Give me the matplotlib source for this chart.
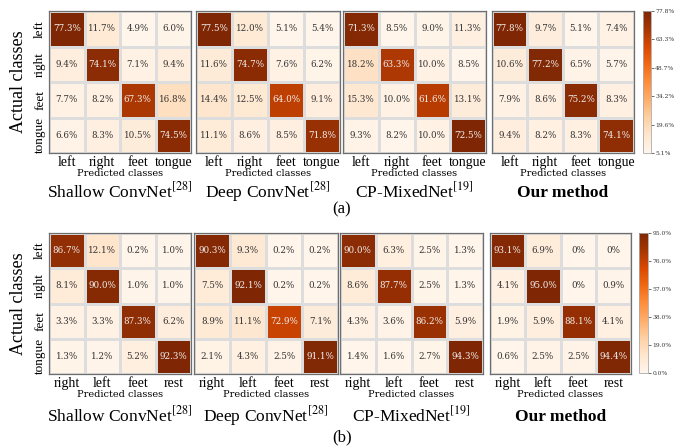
import numpy as np
import matplotlib
matplotlib.use("Agg")
import matplotlib.pyplot as plt

plt.rcParams["mathtext.fontset"] = "stix"

# confusion matrices (percent), rows = actual, cols = predicted
shallow_a = [[77.3, 11.7, 4.9, 6.0], [9.4, 74.1, 7.1, 9.4], [7.7, 8.2, 67.3, 16.8], [6.6, 8.3, 10.5, 74.5]]
deep_a = [[77.5, 12.0, 5.1, 5.4], [11.6, 74.7, 7.6, 6.2], [14.4, 12.5, 64.0, 9.1], [11.1, 8.6, 8.5, 71.8]]
mixed_a = [[71.3, 8.5, 9.0, 11.3], [18.2, 63.3, 10.0, 8.5], [15.3, 10.0, 61.6, 13.1], [9.3, 8.2, 10.0, 72.5]]
ours_a = [[77.8, 9.7, 5.1, 7.4], [10.6, 77.2, 6.5, 5.7], [7.9, 8.6, 75.2, 8.3], [9.4, 8.2, 8.3, 74.1]]

shallow_b = [[86.7, 12.1, 0.2, 1.0], [8.1, 90.0, 1.0, 1.0], [3.3, 3.3, 87.3, 6.2], [1.3, 1.2, 5.2, 92.3]]
deep_b = [[90.3, 9.3, 0.2, 0.2], [7.5, 92.1, 0.2, 0.2], [8.9, 11.1, 72.9, 7.1], [2.1, 4.3, 2.5, 91.1]]
mixed_b = [[90.0, 6.3, 2.5, 1.3], [8.6, 87.7, 2.5, 1.3], [4.3, 3.6, 86.2, 5.9], [1.4, 1.6, 2.7, 94.3]]
ours_b = [[93.1, 6.9, 0, 0], [4.1, 95.0, 0, 0.9], [1.9, 5.9, 88.1, 4.1], [0.6, 2.5, 2.5, 94.4]]

actual_labels = ["left", "right", "feet", "tongue"]
pred_labels_a = ["left", "right", "feet", "tongue"]
pred_labels_b = ["right", "left", "feet", "rest"]
titles = [r"Shallow ConvNet$^{[28]}$", r"Deep ConvNet$^{[28]}$", r"CP-MixedNet$^{[19]}$", "Our method"]

W, H = 681, 447
fig = plt.figure(figsize=(W / 100, H / 100), dpi=100)


def px_axes(x0, y0, x1, y1):
    return fig.add_axes([x0 / W, 1 - y1 / H, (x1 - x0) / W, (y1 - y0) / H])


def fmt(v):
    return "0%" if v == 0 else "%.1f%%" % v


def draw_cm(ax, data, xlabels, title, first, bold, title_y):
    data = np.array(data, dtype=float)
    vmin, vmax = data.min(), data.max()
    mesh = ax.pcolormesh(data, cmap="Oranges", vmin=vmin, vmax=vmax,
                         edgecolors="#dddddd", linewidth=1.0)
    ax.set_xlim(0, 4)
    ax.set_ylim(4, 0)
    for i in range(4):
        for j in range(4):
            v = data[i, j]
            c = "#f0f0f0" if (v - vmin) / (vmax - vmin) > 0.5 else "#333333"
            ax.text(j + 0.5, i + 0.5, fmt(v), ha="center", va="center",
                    fontsize=6.3, color=c, family="DejaVu Serif")
    ax.set_xticks(np.arange(4) + 0.5)
    ax.set_xticklabels(xlabels, family="Liberation Serif", fontsize=10)
    ax.tick_params(length=0, pad=2)
    if first:
        ax.set_yticks(np.arange(4) + 0.5)
        ax.set_yticklabels(actual_labels, family="Liberation Serif", fontsize=9.5,
                           rotation=90, va="center")
        ax.set_ylabel("Actual classes", family="Liberation Serif", fontsize=13, labelpad=5)
    else:
        ax.set_yticks([])
    ax.set_xlabel("Predicted classes", family="DejaVu Serif", fontsize=7, labelpad=0)
    ax.text(0.5, title_y, title, transform=ax.transAxes, ha="center", va="baseline",
            family="Liberation Serif", fontsize=12.5,
            fontweight="bold" if bold else "normal")
    for s in ax.spines.values():
        s.set_color("#6e6e6e")
        s.set_linewidth(0.9)
    return mesh


def draw_cbar(mesh, box, vmin, vmax):
    cax = px_axes(*box)
    cb = fig.colorbar(mesh, cax=cax)
    cb.set_ticks(np.linspace(vmin, vmax, 6))
    cb.set_ticklabels(["%.1f%%" % t for t in np.linspace(vmin, vmax, 6)])
    cb.ax.tick_params(labelsize=4.3, length=2, width=0.5, pad=1, colors="#333333")
    for lab in cb.ax.get_yticklabels():
        lab.set_family("DejaVu Serif")
    cb.outline.set_edgecolor("#aaaaaa")
    cb.outline.set_linewidth(0.6)


boxes_a = [(49, 11, 191, 153), (196, 11, 340, 153), (343, 11, 486, 153), (492, 11, 634, 153)]
boxes_b = [(49, 233, 191, 374), (194, 233, 338, 374), (340, 233, 483, 374), (490, 233, 631, 374)]

for k, (d, box) in enumerate(zip([shallow_a, deep_a, mixed_a, ours_a], boxes_a)):
    m = draw_cm(px_axes(*box), d, pred_labels_a, titles[k], k == 0, k == 3, -0.31)
draw_cbar(m, (643, 11, 651, 153), np.min(ours_a), np.max(ours_a))

for k, (d, box) in enumerate(zip([shallow_b, deep_b, mixed_b, ours_b], boxes_b)):
    m = draw_cm(px_axes(*box), d, pred_labels_b, titles[k], k == 0, k == 3, -0.335)
draw_cbar(m, (639, 233, 648, 373), np.min(ours_b), np.max(ours_b))

fig.text(342 / W, 1 - 209 / H, "(a)", ha="center", va="center",
         family="Liberation Serif", fontsize=12)
fig.text(342 / W, 1 - 437 / H, "(b)", ha="center", va="center",
         family="Liberation Serif", fontsize=12)

fig.savefig("out.png", dpi=100)
